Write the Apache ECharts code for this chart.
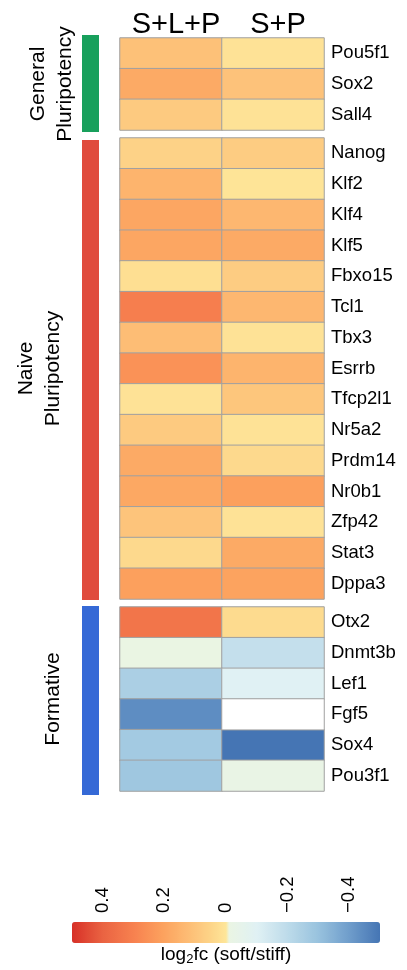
<!DOCTYPE html>
<html>
<head>
<meta charset="utf-8">
<script src="https://cdn.jsdelivr.net/npm/echarts@6/dist/echarts.min.js"></script>
<style>html,body{margin:0;padding:0;background:#fff;}#c{width:407px;height:970px;}</style>
</head>
<body>
<div id="c"></div>
<script>
// ---- data ----
const conditions = ['S+L+P', 'S+P'];
const genesGeneral = ['Pou5f1', 'Sox2', 'Sall4'];
const genesNaive = ['Nanog', 'Klf2', 'Klf4', 'Klf5', 'Fbxo15', 'Tcl1', 'Tbx3', 'Esrrb', 'Tfcp2l1', 'Nr5a2', 'Prdm14', 'Nr0b1', 'Zfp42', 'Stat3', 'Dppa3'];
const genesFormative = ['Otx2', 'Dnmt3b', 'Lef1', 'Fgf5', 'Sox4', 'Pou3f1'];
const slpGeneral = [0.11, 0.18, 0.08];
const spGeneral = [0.01, 0.105, 0.01];
const slpNaive = [0.055, 0.15, 0.19, 0.19, 0.02, 0.31, 0.12, 0.25, 0.01, 0.08, 0.18, 0.185, 0.10, 0.035, 0.21];
const spNaive = [0.075, 0.005, 0.14, 0.18, 0.075, 0.14, 0.01, 0.15, 0.095, 0.01, 0.035, 0.21, 0.01, 0.18, 0.20];
const slpFormative = [0.34, -0.01, -0.25, -0.44, -0.27, -0.28];
const spFormative = [0.03, -0.18, -0.10, null, -0.5, -0.02];
const groupNames = [['General', 'Pluripotency'], ['Naive', 'Pluripotency'], ['Formative']];
const legendTicks = [0.4, 0.2, 0, -0.2, -0.4];
const legendTitle = 'log{s|2}fc (soft/stiff)';

// ---- styling ----
const FONT = '"Liberation Sans", Arial, sans-serif';
const posStops = [[0, '#fee699'], [0.05, '#fdd488'], [0.1, '#fdc47b'], [0.2, '#fca35f'], [0.3, '#f7814f'], [0.4, '#ea6342'], [0.5, '#d73027']];
const negStops = [[0, '#ebf5e1'], [0.1, '#e0f1f4'], [0.2, '#bddbea'], [0.3, '#98c2de'], [0.4, '#6f9dcb'], [0.5, '#4575b4']];
function hex2rgb(h){return [parseInt(h.substr(1,2),16),parseInt(h.substr(3,2),16),parseInt(h.substr(5,2),16)];}
function interp(stops, a){
  for (let i = 0; i < stops.length - 1; i++) {
    const [a0, c0] = stops[i], [a1, c1] = stops[i + 1];
    if (a <= a1 + 1e-9) {
      const t = (a - a0) / (a1 - a0), p = hex2rgb(c0), q = hex2rgb(c1);
      return 'rgb(' + p.map((x, k) => Math.round(x + (q[k] - x) * t)).join(',') + ')';
    }
  }
  return stops[stops.length - 1][1];
}
const N = 201, colors = [];
for (let i = 0; i < N; i++) {
  const v = -0.5 + i / (N - 1);
  colors.push(v >= -1e-9 ? interp(posStops, Math.abs(v)) : interp(negStops, Math.abs(v)));
}

const groups = [
  {genes: genesGeneral, a: slpGeneral, b: spGeneral, top: 38, bottom: 130, color: '#18a05c', bar: [35, 132]},
  {genes: genesNaive, a: slpNaive, b: spNaive, top: 138, bottom: 599, color: '#e04b3d', bar: [140, 600]},
  {genes: genesFormative, a: slpFormative, b: spFormative, top: 607, bottom: 791, color: '#3569d6', bar: [606, 795]}
];
const GL = 120, GW = 204;

const grids = [], xAxes = [], yAxes = [], series = [], graphics = [];
groups.forEach((g, k) => {
  grids.push({left: GL, width: GW, top: g.top, height: g.bottom - g.top});
  xAxes.push({
    gridIndex: k, type: 'category', data: conditions, position: 'top',
    axisLine: {show: false}, axisTick: {show: false}, splitLine: {show: false},
    axisLabel: {show: k === 0, interval: 0, fontSize: 29, color: '#000', fontFamily: FONT, margin: -1, padding: [0, 0, 0, 10]}
  });
  yAxes.push({
    gridIndex: k, type: 'category', data: g.genes, inverse: true, position: 'right',
    axisLine: {show: false}, axisTick: {show: false}, splitLine: {show: false},
    axisLabel: {fontSize: 18.5, color: '#000', fontFamily: FONT, margin: 7}
  });
  const data = [], na = [];
  g.genes.forEach((gene, r) => {
    [g.a[r], g.b[r]].forEach((v, c) => {
      if (v === null) na.push([c, r, 0]); else data.push([c, r, v]);
    });
  });
  series.push({
    type: 'heatmap', xAxisIndex: k, yAxisIndex: k, data: data,
    itemStyle: {borderColor: '#a0a0a0', borderWidth: 1},
    emphasis: {disabled: true}
  });
  series.push({
    type: 'heatmap', xAxisIndex: k, yAxisIndex: k, data: na,
    itemStyle: {color: '#ffffff', borderColor: '#a0a0a0', borderWidth: 1},
    emphasis: {disabled: true}
  });
  graphics.push({type: 'rect', shape: {x: 82, y: g.bar[0], width: 17, height: g.bar[1] - g.bar[0]}, style: {fill: g.color}});
  const cy = (g.top + g.bottom) / 2;
  const names = groupNames[k];
  const xs = names.length === 1 ? [53] : (k === 0 ? [38, 65] : [26, 53]);
  names.forEach((t, j) => {
    graphics.push({type: 'text', x: xs[j], y: cy, rotation: Math.PI / 2,
      style: {text: t, font: '21px ' + FONT, fill: '#000', textAlign: 'center', textVerticalAlign: 'middle'}});
  });
});

// colour bar axis
const CB = {left: 72, top: 922, width: 308, height: 21};
grids.push({left: CB.left, top: CB.top, width: CB.width, height: CB.height});
xAxes.push({
  gridIndex: 3, type: 'value', min: -0.5, max: 0.5, interval: 0.1, inverse: true, position: 'top',
  axisLine: {show: false}, axisTick: {show: false}, splitLine: {show: false},
  axisLabel: {
    rotate: 90, fontSize: 18.5, color: '#000', fontFamily: FONT, margin: 9,
    showMinLabel: true, showMaxLabel: true,
    formatter: function (v) {
      const t = Math.round(v * 10) / 10;
      if (!legendTicks.some(x => Math.abs(x - t) < 1e-6)) return '';
      if (t === 0) return '0';
      return (t < 0 ? '\u2212' : '') + Math.abs(t).toFixed(1);
    }
  }
});
yAxes.push({gridIndex: 3, type: 'value', show: false});

graphics.push({type: 'text', x: 226, y: 955,
  style: {text: legendTitle, font: '19px ' + FONT, fill: '#000', textAlign: 'center', textVerticalAlign: 'middle',
    rich: {s: {fontSize: 13, fontFamily: FONT, fill: '#000', padding: [9, 0, 0, 0]}}}});

const chart = echarts.init(document.getElementById('c'), null, {renderer: 'canvas'});
chart.setOption({
  animation: false,
  backgroundColor: '#fff',
  textStyle: {fontFamily: FONT},
  grid: grids, xAxis: xAxes, yAxis: yAxes, series: series,
  visualMap: {
    type: 'continuous', min: -0.5, max: 0.5, orient: 'horizontal', inverse: true,
    left: CB.left, top: CB.top, itemWidth: CB.height, itemHeight: CB.width, padding: 0,
    calculable: false, hoverLink: false, seriesIndex: [0, 2, 4],
    inRange: {color: colors}
  },
  graphic: graphics
});
</script>
</body>
</html>
